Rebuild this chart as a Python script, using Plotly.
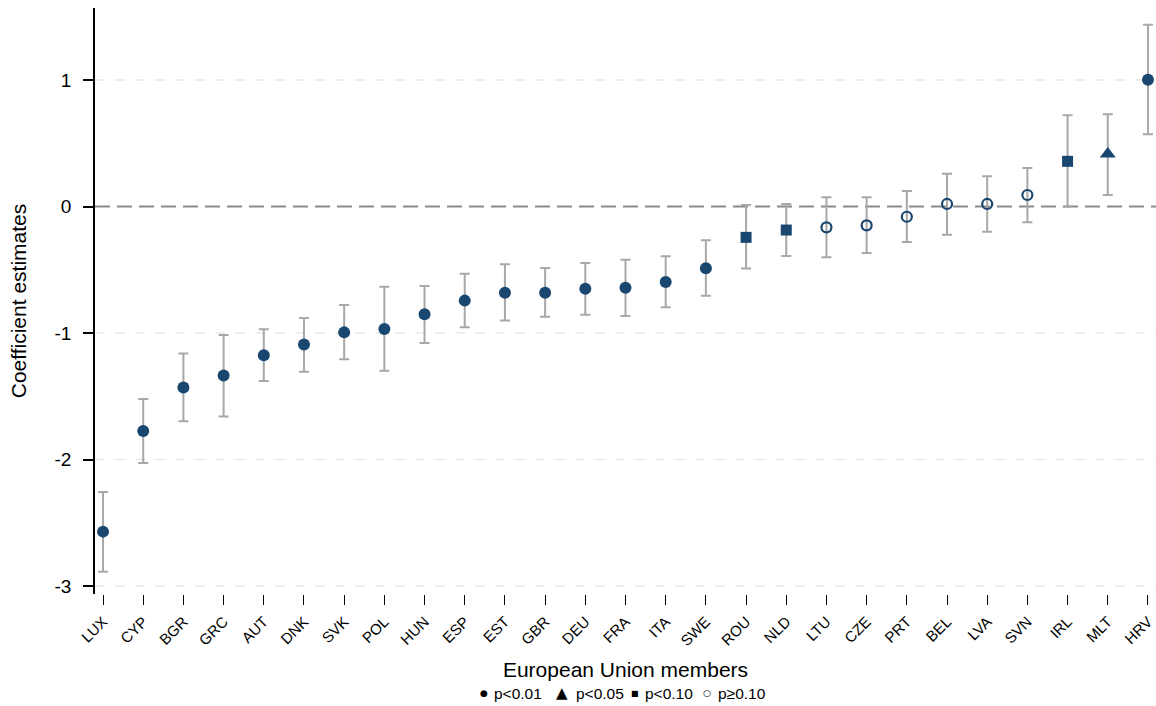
import plotly.graph_objects as go

# Country-level coefficient estimates with 95% confidence intervals
countries = ["LUX", "CYP", "BGR", "GRC", "AUT", "DNK", "SVK", "POL", "HUN", "ESP",
             "EST", "GBR", "DEU", "FRA", "ITA", "SWE", "ROU", "NLD", "LTU", "CZE",
             "PRT", "BEL", "LVA", "SVN", "IRL", "MLT", "HRV"]
coef = [-2.57, -1.775, -1.43, -1.335, -1.175, -1.09, -0.995, -0.968, -0.852, -0.744,
        -0.681, -0.681, -0.65, -0.642, -0.597, -0.489, -0.244, -0.186, -0.165, -0.149,
        -0.081, 0.02, 0.02, 0.091, 0.357, 0.415, 1.002]
ci_low = [-2.887, -2.028, -1.698, -1.659, -1.379, -1.306, -1.208, -1.298, -1.079, -0.955,
          -0.902, -0.871, -0.855, -0.866, -0.797, -0.705, -0.491, -0.391, -0.402, -0.368,
          -0.281, -0.223, -0.199, -0.125, -0.001, 0.091, 0.571]
ci_high = [-2.257, -1.522, -1.161, -1.016, -0.971, -0.881, -0.779, -0.634, -0.628, -0.531,
           -0.457, -0.486, -0.447, -0.420, -0.394, -0.267, 0.012, 0.020, 0.073, 0.073,
           0.123, 0.259, 0.239, 0.304, 0.721, 0.729, 1.437]
signif = ["p<0.01"] * 16 + ["p<0.10", "p<0.10"] + ["p≥0.10"] * 6 + ["p<0.10", "p<0.05", "p<0.01"]

sig_levels = ["p<0.01", "p<0.05", "p<0.10", "p≥0.10"]
y_ticks = [1, 0, -1, -2, -3]
y_tick_text = ["1", "0", "-1", "-2", "-3"]

NAVY = "#1a476f"
BAR_GREY = "#a8a8a8"
FONT = "Liberation Sans, Arial, Helvetica, sans-serif"
SYMBOL_FONT = "DejaVu Sans"

marker_styles = {
    "p<0.01": dict(symbol="circle", size=12, color=NAVY),
    "p<0.05": dict(symbol="triangle-up", size=14, color=NAVY),
    "p<0.10": dict(symbol="square", size=11, color=NAVY),
    "p≥0.10": dict(symbol="circle-open", size=10, color=NAVY, line=dict(width=2.2, color=NAVY)),
}

# key glyphs: (character, glyph font size, glyph centre x in px, gap to label in px)
key_glyphs = {
    "p<0.01": ("●", 9, 484, 8),
    "p<0.05": ("▲", 15, 562, 12),
    "p<0.10": ("■", 8, 635, 8),
    "p≥0.10": ("○", 9, 707, 9),
}

x_index = list(range(len(countries)))

fig = go.Figure()

for level in sig_levels:
    idx = [i for i, s in enumerate(signif) if s == level]
    if not idx:
        continue
    fig.add_trace(go.Scatter(
        x=[x_index[i] for i in idx],
        y=[coef[i] for i in idx],
        mode="markers",
        name=level,
        marker=marker_styles[level],
        error_y=dict(
            type="data",
            symmetric=False,
            array=[ci_high[i] - coef[i] for i in idx],
            arrayminus=[coef[i] - ci_low[i] for i in idx],
            color=BAR_GREY,
            thickness=2,
            width=5,
        ),
        showlegend=False,
        hoverinfo="skip",
    ))

# light dashed grid at the labelled values, with a darker dashed line at zero
for yv in y_ticks:
    if yv == 0:
        continue
    fig.add_shape(type="line", xref="paper", yref="y", x0=0, x1=1, y0=yv, y1=yv,
                  line=dict(color="#e9e9e9", width=1.5, dash="10px,10px"), layer="below")
fig.add_shape(type="line", xref="paper", yref="y", x0=0, x1=1, y0=0, y1=0,
              line=dict(color="#8a8a8a", width=2, dash="15px,7px"), layer="below")

W, H = 1156, 706
ML, MR, MT, MB = 95, 0, 8, 112
KEY_Y = -(693 - (H - MB)) / (H - MT - MB)

# key beneath the axis title
for level in sig_levels:
    glyph, gsize, gx, gap = key_glyphs[level]
    fig.add_annotation(
        xref="paper", yref="paper",
        x=(gx - ML) / (W - ML - MR), y=KEY_Y,
        xanchor="center", yanchor="middle", showarrow=False,
        text=glyph, font=dict(size=gsize, family=SYMBOL_FONT, color="black"),
    )
    fig.add_annotation(
        xref="paper", yref="paper",
        x=(gx + gap - ML) / (W - ML - MR), y=KEY_Y,
        xanchor="left", yanchor="middle", showarrow=False,
        text=level.replace("<", "&lt;"), font=dict(size=15.5, family=FONT, color="black"),
    )

fig.update_layout(
    width=W, height=H,
    margin=dict(l=ML, r=MR, t=MT, b=MB),
    paper_bgcolor="white",
    plot_bgcolor="white",
    font=dict(family=FONT, color="black"),
    showlegend=False,
    xaxis=dict(
        range=[-0.2, 26.2],
        tickmode="array", tickvals=x_index, ticktext=countries,
        tickangle=-45, tickfont=dict(size=15, family=FONT),
        ticks="outside", ticklen=10, tickwidth=1.3, tickcolor="black",
        showline=False, showgrid=False, zeroline=False, automargin=False,
        ticklabelstandoff=2,
        title=dict(text="European Union members", font=dict(size=21, family=FONT), standoff=14),
    ),
    yaxis=dict(
        range=[-3.063, 1.569],
        tickmode="array", tickvals=y_ticks, ticktext=y_tick_text,
        tickfont=dict(size=19, family=FONT),
        ticks="outside", ticklen=10, tickwidth=1.5, tickcolor="black",
        showline=True, linecolor="black", linewidth=1.5,
        showgrid=False, zeroline=False, automargin=False, ticklabelstandoff=8,
        title=dict(text="Coefficient estimates", font=dict(size=21, family=FONT), standoff=22),
    ),
)

fig.write_html("out.html")
